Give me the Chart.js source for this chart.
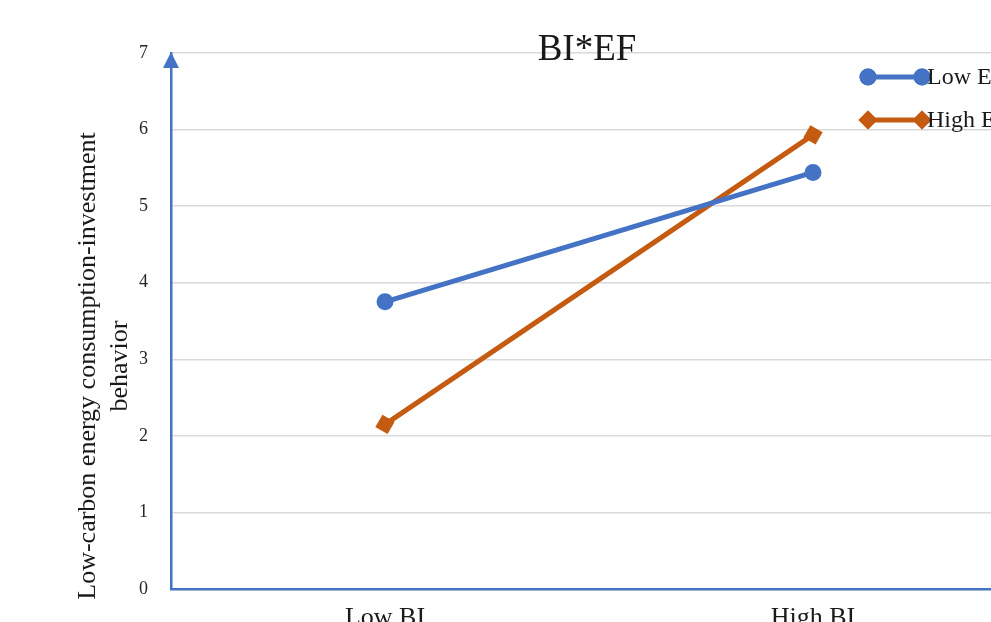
<!DOCTYPE html>
<html>
<head>
<meta charset="utf-8">
<script src="https://cdn.jsdelivr.net/npm/chart.js@4"></script>
<style>
  html, body { margin: 0; padding: 0; overflow: hidden; background: #fff; }
  #wrap { width: 1040px; height: 650px; position: relative; }
</style>
</head>
<body>
<div id="wrap"><canvas id="interaction"></canvas></div>
<script>
const categories = ['Low BI', 'High BI'];
const seriesNames = ['Low EF', 'High EF'];
const lowEF = [3.75, 5.44];
const highEF = [2.15, 5.93];
const yTicks = [0, 1, 2, 3, 4, 5, 6, 7];
const yTitle = ['Low-carbon energy consumption-investment', 'behavior'];

const BLUE = '#4472C4';
const ORANGE = '#C55A11';
const SERIF = '"Liberation Serif", "Times New Roman", serif';

// title, y title, axis arrow and Excel-like legend
const extras = {
    id: 'extras',
    afterDraw(chart) {
        const ctx = chart.ctx;
        const area = chart.chartArea;
        ctx.save();
        // arrow head on top of the y axis
        ctx.fillStyle = BLUE;
        ctx.beginPath();
        ctx.moveTo(area.left, area.top - 1);
        ctx.lineTo(area.left - 8, area.top + 15);
        ctx.lineTo(area.left + 8, area.top + 15);
        ctx.closePath();
        ctx.fill();

        // title
        ctx.fillStyle = '#1a1a1a';
        ctx.font = '37px ' + SERIF;
        ctx.textAlign = 'center';
        ctx.textBaseline = 'middle';
        ctx.fillText('BI*EF', 587, 50);

        // y axis title, two centred lines
        ctx.save();
        ctx.translate(88, 366);
        ctx.rotate(-Math.PI / 2);
        ctx.font = '26px ' + SERIF;
        yTitle.forEach((line, i) => ctx.fillText(line, 0, i * 32));
        ctx.restore();

        // legend
        const rows = [
            { name: seriesNames[0], color: BLUE, style: 'circle', y: 77 },
            { name: seriesNames[1], color: ORANGE, style: 'rectRot', y: 120 }
        ];
        rows.forEach(r => {
            ctx.strokeStyle = r.color;
            ctx.lineWidth = 5;
            ctx.beginPath();
            ctx.moveTo(868, r.y);
            ctx.lineTo(922, r.y);
            ctx.stroke();
            ctx.fillStyle = r.color;
            [868, 922].forEach(x => {
                Chart.helpers.drawPoint(ctx, {
                    pointStyle: r.style, radius: r.style === 'circle' ? 8.5 : 9.5, rotation: 0, borderWidth: 0
                }, x, r.y);
                ctx.fill();
            });
            ctx.fillStyle = '#1a1a1a';
            ctx.font = '24px ' + SERIF;
            ctx.textAlign = 'left';
            ctx.textBaseline = 'middle';
            ctx.fillText(r.name, 927, r.y + 1);
        });
        ctx.restore();
    }
};

new Chart(document.getElementById('interaction'), {
    type: 'line',
    data: {
        labels: categories,
        datasets: [
            {
                label: seriesNames[0],
                data: lowEF,
                borderColor: BLUE,
                backgroundColor: BLUE,
                borderWidth: 5,
                pointStyle: 'circle',
                pointRadius: 8.5,
                pointBorderWidth: 0
            },
            {
                label: seriesNames[1],
                data: highEF,
                borderColor: ORANGE,
                backgroundColor: ORANGE,
                borderWidth: 5,
                pointStyle: 'rect',
                pointRotation: 30,
                pointRadius: 10,
                pointBorderWidth: 0
            }
        ]
    },
    options: {
        responsive: true,
        maintainAspectRatio: false,
        animation: false,
        layout: { padding: { top: 53, right: 13, left: 0, bottom: 0 } },
        plugins: {
            legend: { display: false },
            title: { display: false },
            tooltip: { enabled: false }
        },
        scales: {
            x: {
                offset: true,
                grid: { display: false, drawTicks: false },
                border: { color: BLUE, width: 2.5 },
                ticks: {
                    padding: 14,
                    color: '#1a1a1a',
                    font: { family: SERIF, size: 26 }
                },
                afterFit: s => { s.height = 61; }
            },
            y: {
                min: 0,
                max: 7,
                afterBuildTicks: s => { s.ticks = yTicks.map(v => ({ value: v })); },
                grid: { color: '#d9d9d9', lineWidth: 1.5, drawTicks: false },
                border: { color: BLUE, width: 2.5 },
                ticks: {
                    padding: 23,
                    color: '#262626',
                    font: { family: SERIF, size: 18 }
                },
                title: { display: false },
                afterFit: s => { s.width = 171; }
            }
        }
    },
    plugins: [extras]
});
</script>
</body>
</html>
